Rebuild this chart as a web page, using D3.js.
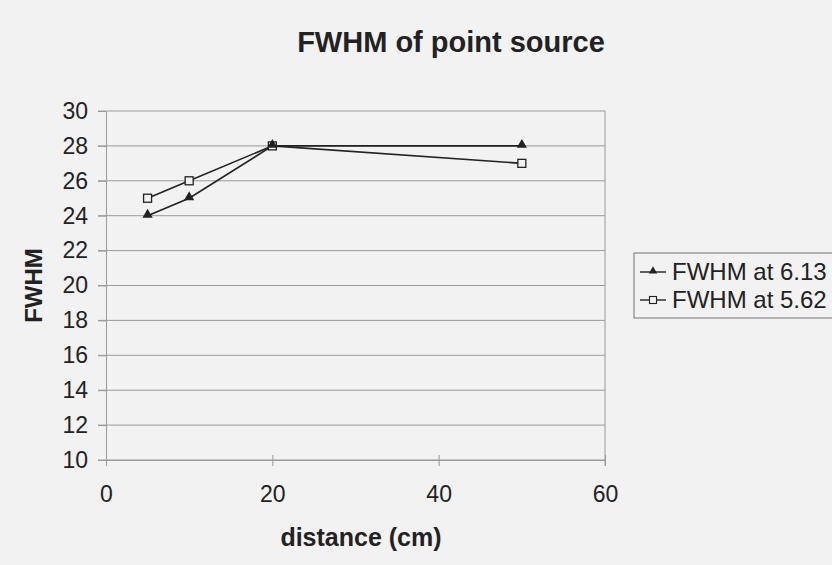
<!DOCTYPE html>
<html>
<head>
<meta charset="utf-8">
<script src="https://cdn.jsdelivr.net/npm/d3@7.9.0/dist/d3.min.js"></script>
<style>
  html, body { margin: 0; padding: 0; background: #f2f2f2; }
  svg { display: block; font-family: "Liberation Sans", Arial, sans-serif; }
</style>
</head>
<body>
<svg id="chart" width="832" height="565"></svg>
<script>
// data
const distances = [5, 10, 20, 50];
const fwhm613 = [24, 25, 28, 28];
const fwhm562 = [25, 26, 28, 27];
const seriesNames = ['FWHM at 6.13', 'FWHM at 5.62'];
const xTicks = [0, 20, 40, 60];
const yTicks = [10, 12, 14, 16, 18, 20, 22, 24, 26, 28, 30];

const svg = d3.select('#chart');
const ink = '#222';
const gridColor = '#9a9a9a';

let x = d3.scaleLinear().domain([0, 60]).range([106, 605]);
let y = d3.scaleLinear().domain([10, 30]).range([460, 111]);

// gridlines
svg.append('g')
    .selectAll('line')
    .data(yTicks)
    .join('line')
    .attr('x1', x(0) - 8)
    .attr('x2', x(60))
    .attr('y1', (d) => y(d))
    .attr('y2', (d) => y(d))
    .attr('stroke', gridColor)
    .attr('stroke-width', 1);

// right border of plot area
svg.append('line')
    .attr('x1', x(60)).attr('x2', x(60))
    .attr('y1', y(30)).attr('y2', y(10) + 6)
    .attr('stroke', gridColor);

// y axis
let yAxis = d3.axisLeft(y).tickValues(yTicks).tickSize(8).tickPadding(10);
let gy = svg.append('g').attr('transform', `translate(${x(0)},0)`).call(yAxis);
gy.select('.domain').attr('stroke', gridColor);
gy.selectAll('.tick line').attr('stroke', gridColor);
gy.selectAll('text').attr('font-size', 23).attr('fill', ink).attr('font-family', '"Liberation Sans", Arial, sans-serif');

// x axis
let xAxis = d3.axisBottom(x).tickValues(xTicks).tickSize(6).tickPadding(20);
let gx = svg.append('g').attr('transform', `translate(0,${y(10)})`).call(xAxis);
gx.select('.domain').attr('stroke', gridColor);
gx.selectAll('.tick line').attr('stroke', gridColor).attr('y1', -5);
gx.selectAll('text').attr('font-size', 23).attr('fill', ink).attr('font-family', '"Liberation Sans", Arial, sans-serif');

// titles
svg.append('text')
    .attr('x', 451).attr('y', 52)
    .attr('text-anchor', 'middle')
    .attr('font-size', 29).attr('font-weight', 'bold').attr('fill', ink)
    .text('FWHM of point source');

svg.append('text')
    .attr('x', 361).attr('y', 546)
    .attr('text-anchor', 'middle')
    .attr('font-size', 25).attr('font-weight', 'bold').attr('fill', ink)
    .text('distance (cm)');

svg.append('text')
    .attr('transform', `translate(42,${(y(10) + y(30)) / 2}) rotate(-90)`)
    .attr('text-anchor', 'middle')
    .attr('font-size', 24).attr('font-weight', 'bold').attr('fill', ink)
    .text('FWHM');

// series
let line = d3.line().x((d) => x(d[0])).y((d) => y(d[1]));
let tri = d3.symbol().type(d3.symbolTriangle).size(45);

let pts1 = distances.map((d, i) => [d, fwhm613[i]]);
let pts2 = distances.map((d, i) => [d, fwhm562[i]]);

[pts2, pts1].forEach((pts) => {
    svg.append('path')
        .attr('d', line(pts))
        .attr('fill', 'none')
        .attr('stroke', ink)
        .attr('stroke-width', 1.6);
});

svg.append('g')
    .selectAll('rect')
    .data(pts2)
    .join('rect')
    .attr('x', (d) => x(d[0]) - 4)
    .attr('y', (d) => y(d[1]) - 4)
    .attr('width', 8).attr('height', 8)
    .attr('fill', '#f2f2f2')
    .attr('stroke', ink)
    .attr('stroke-width', 1.3);

svg.append('g')
    .selectAll('path')
    .data(pts1)
    .join('path')
    .attr('d', tri)
    .attr('transform', (d) => `translate(${x(d[0])},${y(d[1]) - 1})`)
    .attr('fill', ink);

// legend
let legend = svg.append('g');
legend.append('rect')
    .attr('x', 634).attr('y', 253)
    .attr('width', 210).attr('height', 65)
    .attr('fill', 'none')
    .attr('stroke', '#888').attr('stroke-width', 1.2);

seriesNames.forEach((name, i) => {
    let cy = 272 + i * 28;
    legend.append('line')
        .attr('x1', 640).attr('x2', 666)
        .attr('y1', cy).attr('y2', cy)
        .attr('stroke', ink).attr('stroke-width', 1.4);
    if (i === 0) {
        legend.append('path')
            .attr('d', d3.symbol().type(d3.symbolTriangle).size(30))
            .attr('transform', `translate(653,${cy - 1})`)
            .attr('fill', ink);
    } else {
        legend.append('rect')
            .attr('x', 649.5).attr('y', cy - 3.5)
            .attr('width', 7).attr('height', 7)
            .attr('fill', '#f2f2f2').attr('stroke', ink).attr('stroke-width', 1.1);
    }
    legend.append('text')
        .attr('x', 672).attr('y', cy + 8)
        .attr('font-size', 24).attr('fill', ink)
        .text(name);
});
</script>
</body>
</html>
